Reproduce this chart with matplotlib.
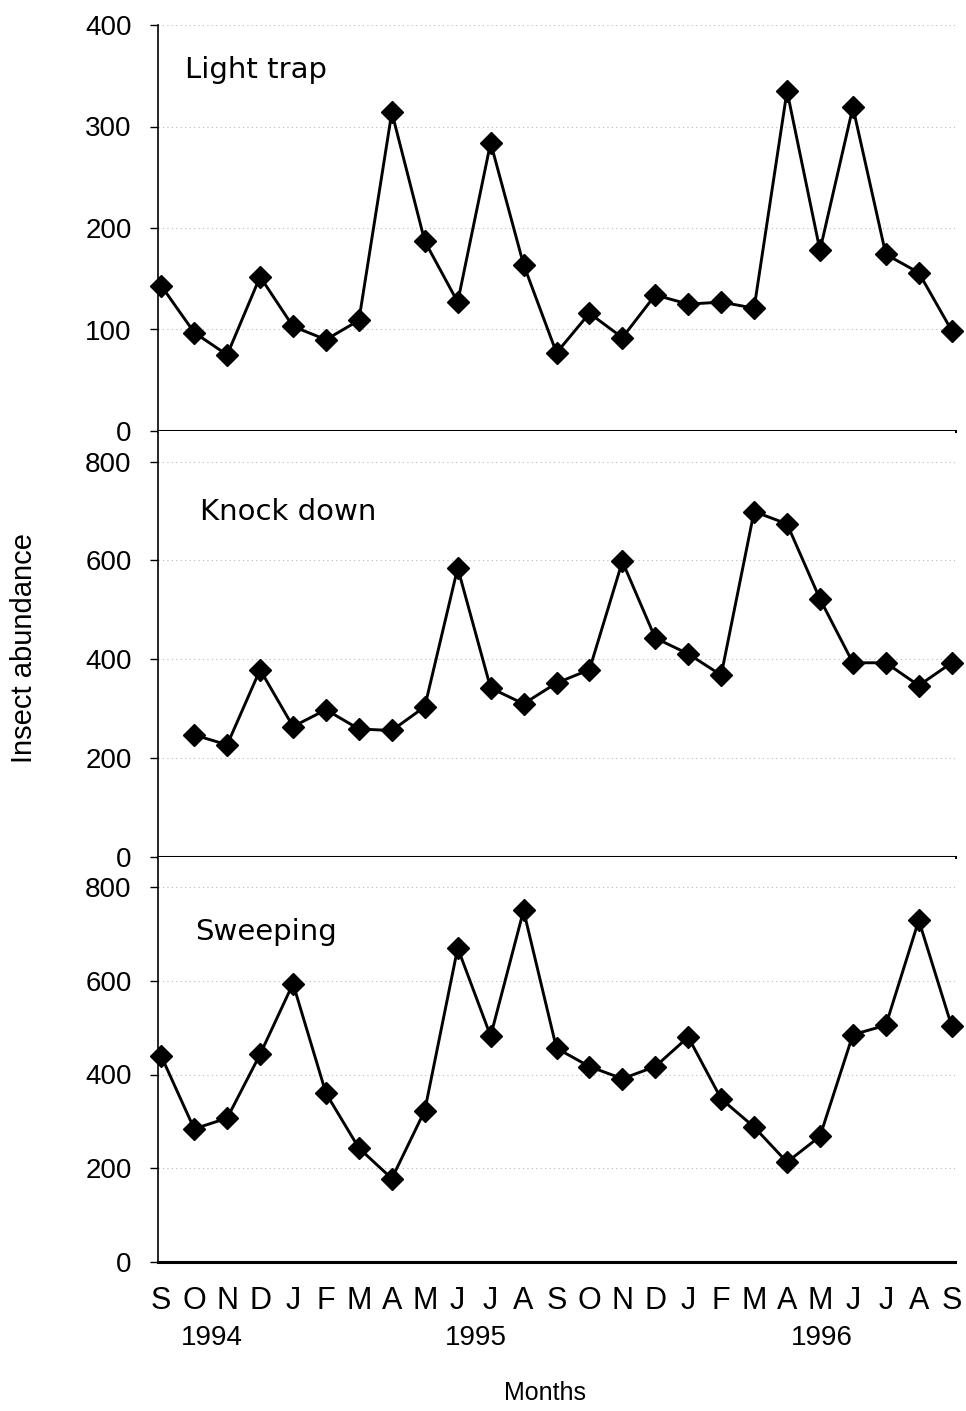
import matplotlib
matplotlib.use("Agg")
import matplotlib.pyplot as plt
from matplotlib.transforms import blended_transform_factory

plt.rcParams['font.family'] = ['Liberation Sans', 'DejaVu Sans']

months = ["S", "O", "N", "D", "J", "F", "M", "A", "M", "J", "J", "A",
          "S", "O", "N", "D", "J", "F", "M", "A", "M", "J", "J", "A", "S"]
years = ["1994", "1995", "1996"]
year_pos = [1.53, 9.55, 20.06]

light_trap = [143, 97, 75, 152, 103, 90, 109, 314, 187, 127, 284, 164, 77,
              116, 92, 134, 125, 127, 121, 335, 178, 319, 174, 156, 99]
# knock down starts in October 1994
knock_down = [247, 227, 379, 264, 298, 259, 256, 304, 585, 342, 310, 352,
              379, 598, 443, 411, 368, 699, 674, 522, 393, 393, 347, 393]
sweeping = [439, 284, 307, 443, 594, 360, 243, 178, 323, 670, 482, 750, 456,
            417, 391, 417, 480, 348, 288, 213, 268, 485, 505, 729, 503]

panels = [
    ("Light trap", list(range(len(light_trap))), light_trap, [0, 100, 200, 300, 400], 400),
    ("Knock down", list(range(1, 1 + len(knock_down))), knock_down, [0, 200, 400, 600, 800], 862),
    ("Sweeping", list(range(len(sweeping))), sweeping, [0, 200, 400, 600, 800], 864),
]

W, H = 966, 1411
fig = plt.figure(figsize=(W / 100, H / 100), dpi=100)

boxes = [(25, 431), (431, 857), (857, 1262)]
left = 158 / W
width = 797 / W
label_pos = [(185, 70), (200, 512), (195, 932)]

axes = []
for (name, xs, ys, ticks, ytop), (top, bot), (lx, ly) in zip(panels, boxes, label_pos):
    ax = fig.add_axes([left, 1 - bot / H, width, (bot - top) / H])
    ax.plot(xs, ys, color='black', lw=2.1, marker='D', markersize=11.5,
            markerfacecolor='black', markeredgecolor='black', zorder=3,
            clip_on=False)
    ax.set_xlim(-0.1, 24.1)
    ax.set_ylim(0, ytop)
    ax.set_yticks(ticks)
    ax.set_yticklabels([str(t) for t in ticks], fontsize=20)
    for t in ticks[1:]:
        ax.axhline(t, color='#b8b8b8', lw=0.8, ls=(0, (1, 3)), zorder=1)
    ax.spines['top'].set_visible(False)
    ax.spines['right'].set_visible(False)
    ax.spines['left'].set_linewidth(1.2)
    ax.spines['bottom'].set_linewidth(2.2)
    ax.tick_params(axis='y', direction='out', length=6, width=1, pad=13)
    ax.tick_params(axis='x', length=0)
    ax.text(lx / W, 1 - ly / H, name, transform=fig.transFigure, fontsize=21,
            family=['DejaVu Sans'], ha='left', va='center')
    axes.append(ax)

for ax in axes[:-1]:
    ax.set_xticks([])

ax3 = axes[-1]
ax3.set_xticks(list(range(len(months))))
ax3.set_xticklabels(months, fontsize=22, family=['Liberation Sans Narrow', 'Liberation Sans'])
ax3.tick_params(axis='x', pad=17)
trans = blended_transform_factory(ax3.transData, fig.transFigure)
for yr, xp in zip(years, year_pos):
    ax3.text(xp, 1 - 1338 / H, yr, transform=trans, fontsize=20, ha='center', va='center')

fig.text(545 / W, 1 - 1393 / H, "Months", fontsize=18, family=['Liberation Sans'],
         ha='center', va='center')
fig.text(24 / W, 1 - 648 / H, "Insect abundance", fontsize=21, ha='center', va='center',
         rotation=90)

fig.savefig("out.png", dpi=100)
